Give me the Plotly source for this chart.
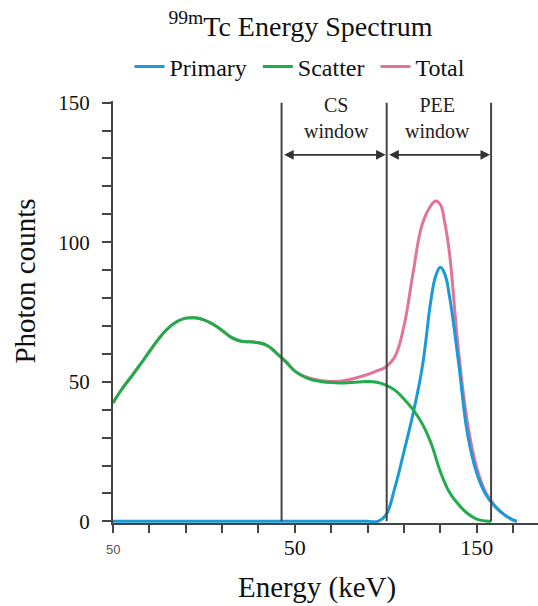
import plotly.graph_objects as go

# ---- data ----
scatter_E = [-50, -45, -40, -35, -30, -25, -20, -15, -10, -5, 0, 5, 10, 15, 20, 25, 30, 35, 40, 45,
             50, 55, 60, 65, 70, 75, 80, 85, 90, 95, 100, 105, 110, 115, 120, 125, 130, 135, 140,
             145, 150, 155, 158]
scatter_counts = [42.4, 47.5, 51.8, 56.2, 60.8, 65.3, 69.0, 71.5, 72.8, 72.9, 72.2, 70.6, 68.4, 65.9,
                  64.6, 64.3, 64.0, 62.9, 60.2, 57.2, 53.8, 51.8, 50.6, 50.0, 49.7, 49.6, 49.7, 49.9,
                  50.1, 49.8, 48.8, 47.0, 43.8, 40.0, 35.0, 27.8, 17.8, 10.4, 6.0, 2.8, 0.8, 0.1, 0.0]

primary_E = [-50, 0, 50, 90, 95.6, 100, 105, 110, 115, 120, 125, 127.5, 130, 132.5, 135, 140, 145,
             150, 155, 160, 165, 170, 172]
primary_counts = [0, 0, 0, 0, 0, 2.2, 12.1, 25.0, 38.6, 55.0, 80.0, 88.0, 91.0, 88.5, 80.7, 57.0,
                  31.1, 17.3, 9.6, 5.3, 2.4, 0.4, 0.0]

total_E = [-50, -45, -40, -35, -30, -25, -20, -15, -10, -5, 0, 5, 10, 15, 20, 25, 30, 35, 40, 45,
           50, 55, 60, 65, 70, 75, 80, 85, 90, 95, 100, 105, 110, 115, 120, 125, 127.5, 130, 132.5,
           135, 140, 145, 150, 155, 160, 165, 170, 172]
total_counts = [42.4, 47.5, 51.8, 56.2, 60.8, 65.3, 69.0, 71.5, 72.8, 72.9, 72.2, 70.6, 68.4, 65.9,
                64.6, 64.3, 64.0, 62.9, 60.2, 57.2, 53.8, 52.0, 51.0, 50.4, 50.1, 50.2, 50.8, 51.6,
                52.6, 53.9, 55.3, 59.0, 70.0, 89.0, 106.3, 113.3, 114.8, 113.5, 106.8, 96.2, 61.0,
                35.0, 19.2, 10.3, 5.6, 2.6, 0.5, 0.0]

series_names = ["Primary", "Scatter", "Total"]

window_edges = [42.7, 100.5, 157.9]
window_labels = ["CS<br>window", "PEE<br>window"]
window_label_x = [73.1, 128.7]

x_tickvals = [-50, -30, -10, 10, 30, 50, 70, 90, 110, 130, 150, 170]
x_ticktext = ["", "", "", "", "", "50", "", "", "", "", "150", ""]
y_tickvals = [0, 50, 100, 150]

SERIF = "Liberation Serif, Times New Roman, serif"
AX = "#444444"
BLUE = "#1A9AD6"
GREEN = "#1FAD4B"
PINK = "#E27399"

fig = go.Figure()
fig.add_trace(go.Scatter(x=total_E, y=total_counts, mode="lines", name=series_names[2], legendrank=3,
                         line=dict(color=PINK, width=3, shape="spline", smoothing=1.2)))
fig.add_trace(go.Scatter(x=primary_E, y=primary_counts, mode="lines",
                         name=series_names[0] + "&nbsp;", legendrank=1,
                         line=dict(color=BLUE, width=3, shape="spline", smoothing=1.2)))
fig.add_trace(go.Scatter(x=scatter_E, y=scatter_counts, mode="lines",
                         name=series_names[1] + "&nbsp;", legendrank=2,
                         line=dict(color=GREEN, width=3, shape="spline", smoothing=1.2)))

for xe in window_edges:
    fig.add_shape(type="line", x0=xe, x1=xe, y0=0, y1=150, xref="x", yref="y",
                  line=dict(color=AX, width=2), layer="above")

arrow_y = 131.3
for a, b in [(window_edges[0], window_edges[1]), (window_edges[1], window_edges[2])]:
    fig.add_annotation(x=b, y=arrow_y, ax=a, ay=arrow_y, xref="x", yref="y", axref="x", ayref="y",
                       text="", showarrow=True, arrowhead=2, arrowside="end+start",
                       arrowsize=1.2, arrowwidth=1.6, arrowcolor="#333333", standoff=1, startstandoff=1)

for lbl, lx in zip(window_labels, window_label_x):
    fig.add_annotation(x=lx, y=144.5, xref="x", yref="y", text=lbl, showarrow=False,
                       xanchor="center", yanchor="middle",
                       font=dict(family=SERIF, size=20, color="#222222"))

# odd small grey first x label, as in the reference
fig.add_annotation(x=-50, y=(523.4 - 550) / 422, xref="x", yref="paper", text="50", showarrow=False,
                   xanchor="center", yanchor="middle",
                   font=dict(family="Liberation Sans, Arial, sans-serif", size=13, color="#555555"))

# axis titles
fig.add_annotation(x=(25 - 113) / 425, y=(523.4 - 282) / 422, xref="paper", yref="paper",
                   text="Photon counts", showarrow=False, textangle=-90,
                   xanchor="center", yanchor="middle",
                   font=dict(family=SERIF, size=29, color="#111111"))
fig.add_annotation(x=(317 - 113) / 425, y=(523.4 - 588) / 422, xref="paper", yref="paper",
                   text="Energy (keV)", showarrow=False, xanchor="center", yanchor="middle",
                   font=dict(family=SERIF, size=29, color="#111111"))

fig.update_layout(
    width=538, height=606,
    margin=dict(l=113, r=0, t=101, b=83, autoexpand=False),
    paper_bgcolor="white", plot_bgcolor="white",
    font=dict(family=SERIF, color="#111111"),
    title=dict(text="<sup>99m</sup>Tc Energy Spectrum", x=300.5 / 538, xanchor="center",
               y=1 - 26 / 606, yanchor="middle", yref="container",
               font=dict(family=SERIF, size=28, color="#111111")),
    legend=dict(orientation="h", x=300 / 538, xanchor="center", xref="container",
                y=1 - 67 / 606, yanchor="middle", yref="container",
                font=dict(family=SERIF, size=24, color="#111111"),
                traceorder="normal", itemwidth=30, tracegroupgap=0),
    showlegend=True,
)

fig.update_xaxes(range=[-50, 183.7], showgrid=False, zeroline=False, automargin=False,
                 showline=True, linecolor=AX, linewidth=2,
                 tickmode="array", tickvals=x_tickvals, ticktext=x_ticktext,
                 ticks="outside", ticklen=8, tickwidth=1.5, tickcolor=AX,
                 ticklabelstandoff=-4,
                 tickfont=dict(family=SERIF, size=22, color="#111111"))
fig.update_yaxes(range=[-0.6, 150.6], showgrid=False, zeroline=False, automargin=False,
                 showline=True, linecolor=AX, linewidth=2,
                 tickmode="array", tickvals=y_tickvals,
                 ticks="outside", ticklen=9, tickwidth=1.5, tickcolor=AX,
                 ticklabelstandoff=8,
                 minor=dict(tickmode="linear", tick0=0, dtick=10, ticks="outside",
                            ticklen=9, tickwidth=1.5, tickcolor=AX),
                 tickfont=dict(family=SERIF, size=21, color="#111111"))

fig.write_html("out.html", config={"displayModeBar": False},
               post_script="document.body.style.margin='0px';document.body.style.overflow='hidden';")
